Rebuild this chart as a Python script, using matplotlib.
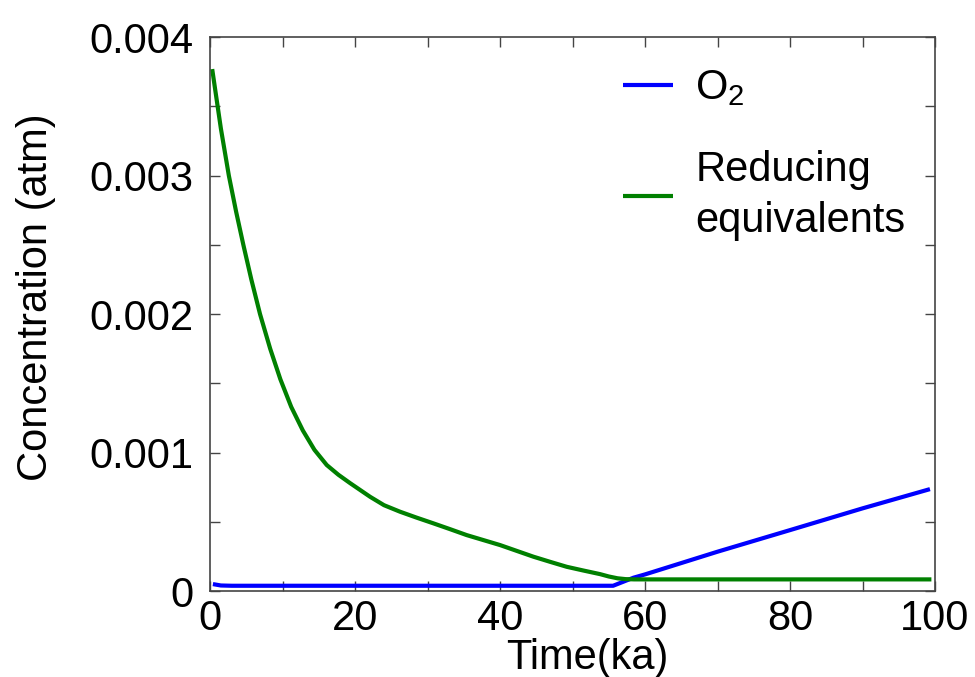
import numpy as np
import matplotlib
matplotlib.use("Agg")
import matplotlib.pyplot as plt
from matplotlib.ticker import MultipleLocator

plt.rcParams["font.family"] = ["Liberation Sans", "DejaVu Sans"]
plt.rcParams["mathtext.default"] = "regular"

# ── data ──────────────────────────────────────────────────────────────────────
t_red = [0.3, 1.5, 2.6, 3.6, 4.6, 5.7, 6.9, 8.3, 9.7, 11.2, 12.8, 14.4,
         16.1, 17.7, 19.3, 20.7, 22.1, 24.0, 26.2, 28.5, 30.8, 33.1, 35.4,
         37.7, 40.0, 42.3, 44.6, 46.9, 49.2, 51.5, 53.8, 55.0, 56.2, 57.3,
         58.5, 70.0, 85.0, 99.5]
c_red = [0.00377, 0.00334, 0.00300, 0.00274, 0.00250, 0.00225, 0.00200,
         0.00175, 0.00153, 0.00133, 0.00116, 0.00102, 0.00091, 0.00084,
         0.00078, 0.00073, 0.00068, 0.00062, 0.000573, 0.000530, 0.000489,
         0.000447, 0.000404, 0.000368, 0.000332, 0.000290, 0.000248,
         0.000211, 0.000175, 0.000148, 0.000122, 0.000105, 0.000092,
         0.000086, 0.000084, 0.000084, 0.000084, 0.000084]

t_o2 = [0.4, 1.5, 3.0, 30.0, 55.6, 58.4, 60.0, 70.0, 80.0, 90.0, 99.3]
c_o2 = [0.000050, 0.000040, 0.000038, 0.000038, 0.000038, 0.000096,
        0.000120, 0.000284, 0.000440, 0.000597, 0.000736]

xticks = [0, 20, 40, 60, 80, 100]
yticks = [0, 0.001, 0.002, 0.003, 0.004]
ytick_labels = ["0", "0.001", "0.002", "0.003", "0.004"]

# ── figure ───────────────────────────────────────────────────────────────────
fig = plt.figure(figsize=(9.75, 6.77), dpi=100, facecolor="white")
ax = fig.add_axes([0.2154, 0.127, 0.7436, 0.818])

ax.plot(t_o2, c_o2, color="#0000FF", lw=3, label="O$_2$", solid_capstyle="butt")
ax.plot(t_red, c_red, color="#008000", lw=3, label="Reducing\nequivalents",
        solid_capstyle="butt")

ax.set_xlim(0, 100)
ax.set_ylim(0, 0.004)
ax.set_xticks(xticks)
ax.set_yticks(yticks)
ax.set_yticklabels(ytick_labels)
ax.xaxis.set_minor_locator(MultipleLocator(10))
ax.yaxis.set_minor_locator(MultipleLocator(0.0005))

ax.tick_params(which="both", direction="in", top=True, right=True,
               length=7, width=1, color="#444444", labelsize=30)
ax.tick_params(axis="y", pad=12)
ax.tick_params(axis="x", pad=6)
for sp in ax.spines.values():
    sp.set_color("#444444")
    sp.set_linewidth(1.2)

ax.set_xlabel("Time(ka)", fontsize=30)
ax.set_ylabel("Concentration (atm)", fontsize=30)
ax.xaxis.set_label_coords(0.521, -0.084)
ax.yaxis.set_label_coords(-0.213, 0.531)

leg = ax.legend(loc="upper left", bbox_to_anchor=(0.546, 0.974), frameon=False,
                fontsize=30, handlelength=1.2, handletextpad=0.55,
                labelspacing=1.0, borderaxespad=0)
leg.get_texts()[1].set_linespacing(1.35)

fig.savefig("out.png", dpi=100, facecolor="white")
